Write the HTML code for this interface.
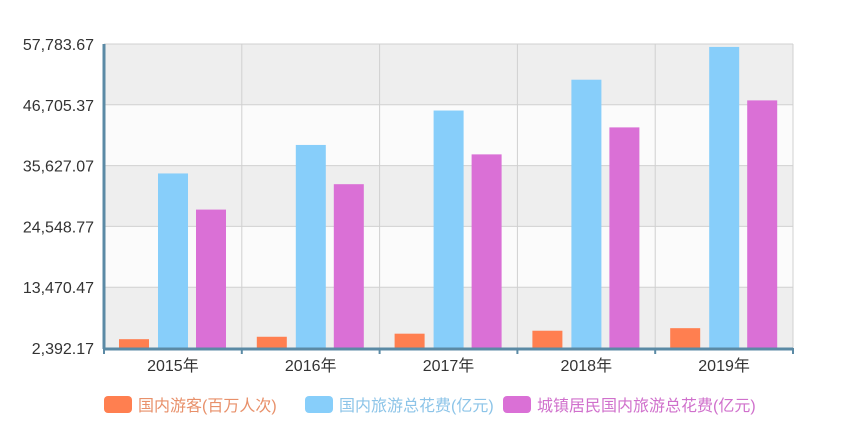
<!DOCTYPE html>
<html><head><meta charset="utf-8"><style>
body{margin:0;background:#fff;width:856px;height:440px;overflow:hidden}
svg text{font-family:"Liberation Sans","Noto Sans CJK SC",sans-serif}
</style></head><body>
<svg id="c" width="856" height="440"></svg>
<script>
const categories=["2015年","2016年","2017年","2018年","2019年"];
const tourists=[4000,4440,5001,5539,6006];
const totalSpend=[34195,39390,45661,51278,57251];
const urbanSpend=[27611,32241,37673,42590,47509];
const yTicks=[2392.17,13470.47,24548.77,35627.07,46705.37,57783.67];
const seriesNames=["国内游客(百万人次)","国内旅游总花费(亿元)","城镇居民国内旅游总花费(亿元)"];
const NS="http://www.w3.org/2000/svg",svg=document.getElementById('c');
const L=104,R=793,T=44,B=348,ymin=2392.17,ymax=57783.67;
const y=v=>B-(v-ymin)/(ymax-ymin)*(B-T);
const cw=(R-L)/categories.length;
const x=i=>L+i*cw;
function mk(t,a,p){const e=document.createElementNS(NS,t);for(const k in a)e.setAttribute(k,a[k]);(p||svg).appendChild(e);return e;}
for(let i=0;i<yTicks.length-1;i++){
 const r=mk('rect',{x:L,y:y(yTicks[i+1]),width:R-L,height:y(yTicks[i])-y(yTicks[i+1]),fill:i%2==0?'#eeeeee':'#fbfbfb'});
 
 
}
yTicks.forEach(v=>{
 const l=mk('line',{x1:L,x2:R,y1:y(v),y2:y(v),stroke:'#d0d0d0'});
 
 
 const t=mk('text',{x:94,y:y(v)+6,'text-anchor':'end','font-size':16,fill:'#333'});
 t.textContent=v.toLocaleString('en-US',{minimumFractionDigits:2,maximumFractionDigits:2});
 
 
});
for(let i=1;i<=categories.length;i++){
 const l=mk('line',{x1:x(i),x2:x(i),y1:T,y2:B,stroke:'#d0d0d0'});
 
 
}
const series=[tourists,totalSpend,urbanSpend],colors=['#ff7f50','#87cefa','#da70d6'],offs=[15,54,92],bw=30;
categories.forEach((c,i)=>{
 series.forEach((s,j)=>{
  const r=mk('rect',{x:x(i)+offs[j],y:y(s[i]),width:bw,height:B-y(s[i]),fill:colors[j]});
  
  
 });
 const t=mk('text',{x:x(i)+cw/2,y:371,'text-anchor':'middle','font-size':16,fill:'#333'});
 t.textContent=c;
 
 
});
const ax=mk('line',{x1:L,x2:L,y1:T,y2:B+1,stroke:'#5b8aa5','stroke-width':3});


const bx=mk('line',{x1:L,x2:R,y1:B+1,y2:B+1,stroke:'#5b8aa5','stroke-width':3});


for(let i=0;i<=categories.length;i++){
 const l=mk('line',{x1:x(i),x2:x(i),y1:B,y2:B+6,stroke:'#5b8aa5','stroke-width':2});
 
 
}
const lx=[104,305,503],tc=['#e8906a','#8cc4e8','#d070cc'];
seriesNames.forEach((n,j)=>{
 const g=mk('g',{});
 
 
 mk('rect',{x:lx[j],y:396,width:28,height:17,rx:4,fill:colors[j]},g);
 const t=mk('text',{x:lx[j]+34,y:411,'font-size':16,fill:tc[j]},g);
 t.textContent=n;
});
</script>
</body></html>
